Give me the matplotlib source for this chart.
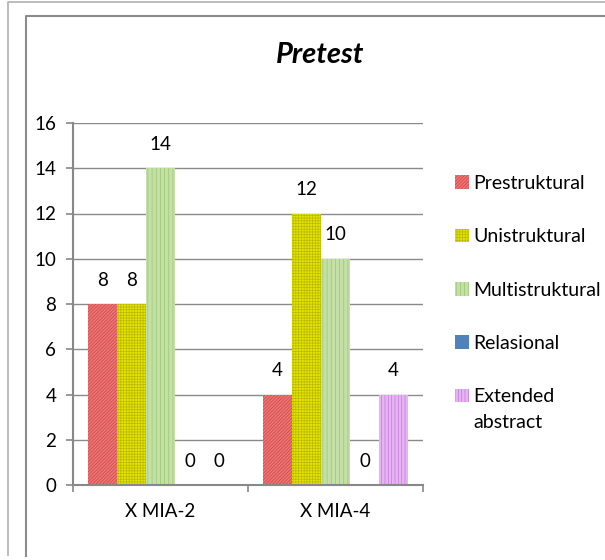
import numpy as np
import matplotlib.pyplot as plt
from matplotlib.lines import Line2D

# data
groups = ["X MIA-2", "X MIA-4"]
levels = ["Prestruktural", "Unistruktural", "Multistruktural", "Relasional", "Extended"]
prestruktural = [8, 4]
unistruktural = [8, 12]
multistruktural = [14, 10]
relasional = [0, 0]
extended_abstract = [0, 4]
yticks = [0, 2, 4, 6, 8, 10, 12, 14, 16]

values = [prestruktural, unistruktural, multistruktural, relasional, extended_abstract]
faces = ["#EE7676", "#E4E400", "#C4E0A6", "#4F81BD", "#E6B4F2"]
hatchcols = ["#CC4444", "#B8B800", "#98C670", "#4F81BD", "#C47ADA"]
hatches = ["//////////", "++++++", "||||", "", "|||||"]

plt.rcParams["font.family"] = ["Lato", "DejaVu Sans"]
plt.rcParams["hatch.linewidth"] = 0.5

fig = plt.figure(figsize=(6.05, 5.6), dpi=100)
ax = fig.add_axes([73 / 605, 1 - 485 / 560, 350 / 605, 362 / 560])

x = np.arange(len(groups)) + 0.5
width = 29 / 175
for i, vals in enumerate(values):
    bars = ax.bar(x + (i - 2) * width, vals, width, color=faces[i], edgecolor=hatchcols[i],
                  linewidth=0, hatch=hatches[i], label=levels[i])
    ax.bar_label(bars, padding=11, fontsize=13.5)

ax.set_xlim(0, 2)
ax.set_ylim(0, 16)
ax.set_yticks(yticks)
ax.tick_params(axis="y", labelsize=13.5, length=5, width=1.2, color="#888888", pad=7)
ax.set_xticks(x)
ax.set_xticklabels(groups)
ax.set_xticks([0, 1, 2], minor=True)
ax.tick_params(axis="x", which="major", length=0, labelsize=13.5, pad=13)
ax.tick_params(axis="x", which="minor", length=5, width=1.2, color="#888888")
ax.grid(axis="y", color="#8a8a8a", linewidth=1.0)
ax.set_axisbelow(True)
for s in ["top", "right"]:
    ax.spines[s].set_visible(False)
for s in ["left", "bottom"]:
    ax.spines[s].set_color("#888888")
    ax.spines[s].set_linewidth(1.5)

fig.text(320 / 605, 1 - 55 / 560, "Pretest", fontsize=21, fontweight="bold",
         fontstyle="italic", ha="center", va="center")

leg = fig.legend(loc="upper left", bbox_to_anchor=(455 / 605, 1 - 175 / 560), frameon=False,
                 fontsize=14, borderpad=0, borderaxespad=0, handlelength=0.7,
                 handleheight=0.7, handletextpad=0.25, labelspacing=1.87)
fig.text(473 / 605, 1 - 423 / 560, "abstract", fontsize=14, va="center")

# frame lines of the original page
fig.add_artist(Line2D([8 / 605, 8 / 605, 1], [1 - 555 / 560, 1 - 2 / 560, 1 - 2 / 560],
                      color="#b0b0b0", linewidth=1.2))
fig.add_artist(Line2D([26 / 605, 26 / 605, 1], [1 - 556 / 560, 1 - 16 / 560, 1 - 16 / 560],
                      color="#8c8c8c", linewidth=1.5))

plt.savefig("out.png", dpi=100)
